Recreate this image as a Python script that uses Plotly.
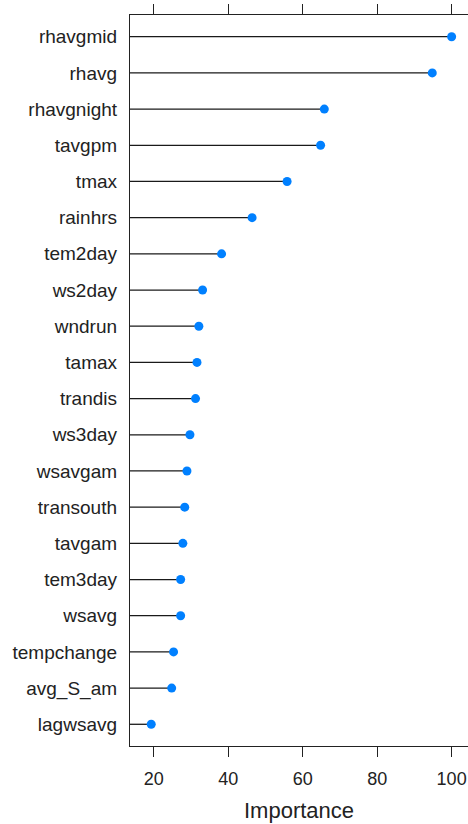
import plotly.graph_objects as go

features = ["rhavgmid", "rhavg", "rhavgnight", "tavgpm", "tmax", "rainhrs", "tem2day",
            "ws2day", "wndrun", "tamax", "trandis", "ws3day", "wsavgam", "transouth",
            "tavgam", "tem3day", "wsavg", "tempchange", "avg_S_am", "lagwsavg"]
importance = [100.0, 94.8, 65.8, 64.8, 55.8, 46.4, 38.2,
              33.1, 32.1, 31.6, 31.2, 29.7, 28.9, 28.3,
              27.8, 27.2, 27.2, 25.3, 24.8, 19.3]
tick_vals = [20, 40, 60, 80, 100]

x_lo, x_hi = 13.6, 104.4
n = len(features)
ypos = list(range(n, 0, -1))

lx, ly = [], []
for v, y in zip(importance, ypos):
    lx += [x_lo, v, None]
    ly += [y, y, None]

fig = go.Figure()
fig.add_trace(go.Scatter(x=lx, y=ly, mode="lines",
                         line=dict(color="#1a1a1a", width=1.3),
                         hoverinfo="skip", showlegend=False))
fig.add_trace(go.Scatter(x=importance, y=ypos, mode="markers",
                         marker=dict(color="#0080ff", size=9),
                         showlegend=False))

font = "Liberation Sans, Arial, sans-serif"
fig.update_layout(
    width=468, height=824,
    margin=dict(l=130, r=0, t=15, b=78),
    plot_bgcolor="white", paper_bgcolor="white",
    font=dict(family=font, size=18, color="#222"),
    xaxis=dict(range=[x_lo, x_hi], tickvals=tick_vals, ticks="outside", ticklen=10,
               tickwidth=1.3, tickcolor="#222", showline=True, linecolor="#222",
               linewidth=1.3, mirror="allticks", showgrid=False, zeroline=False,
               ticklabelstandoff=6,
               title=dict(text="Importance", font=dict(size=22), standoff=14)),
    yaxis=dict(range=[0.4, n + 0.6], tickvals=ypos, ticktext=features,
               tickfont=dict(size=19),
               showline=True, linecolor="#222", linewidth=1.3, mirror=False,
               ticks="", showgrid=False, zeroline=False, ticklabelstandoff=8),
)
fig.write_html("out.html", config={"displayModeBar": False},
               post_script="document.body.style.margin='0px';document.body.style.overflow='hidden';")
